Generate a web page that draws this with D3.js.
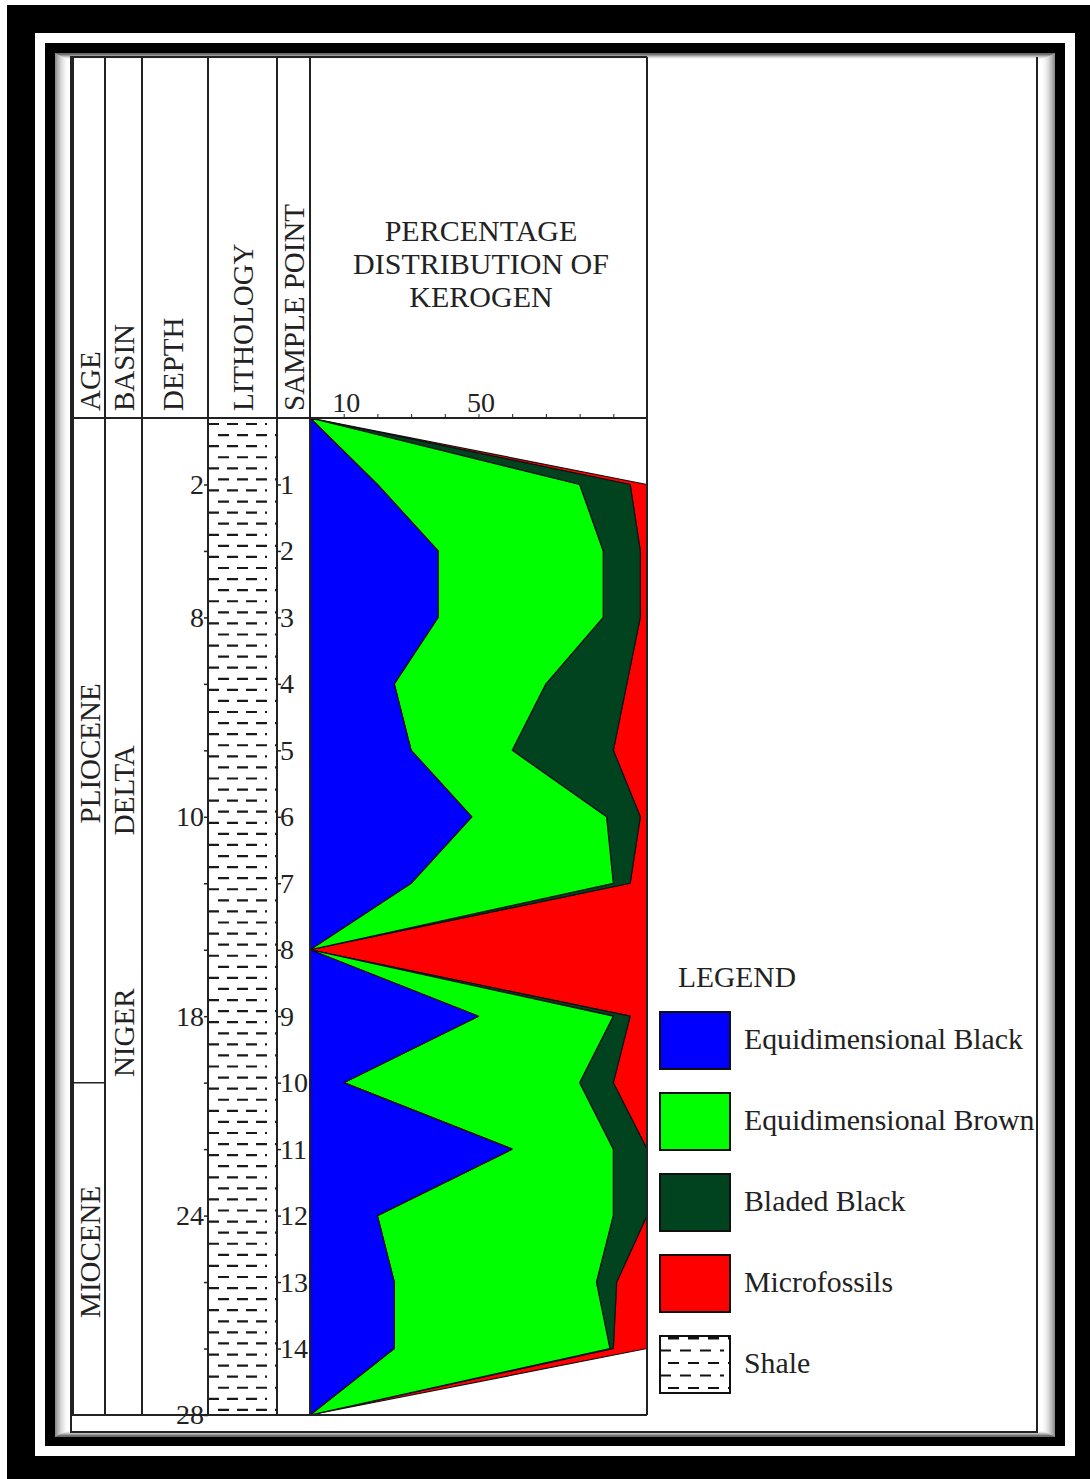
<!DOCTYPE html>
<html>
<head>
<meta charset="utf-8">
<script src="https://cdn.jsdelivr.net/npm/d3@7"></script>
<style>
  html, body { margin: 0; padding: 0; background: #000; }
  svg { display: block; }
  text { font-family: "Liberation Serif", "DejaVu Serif", serif; fill: #222; }
</style>
</head>
<body>
<svg id="chart"></svg>
<script>
// Sample points down the section (0 = top, 15 = base)
const samplePoints = d3.range(0, 16);
const sampleLabels = ["", "1", "2", "3", "4", "5", "6", "7", "8", "9", "10", "11", "12", "13", "14", ""];
const depthLabels = ["", "2", "", "8", "", "", "10", "", "", "18", "", "", "24", "", "", "28"];

// Kerogen percentages at each sample point
const equiBlack    = [0, 20, 38, 38, 25, 30, 48, 30, 0, 50, 10, 60, 20, 25, 25, 0];
const equiBrown    = [0, 60, 49, 49, 45, 30, 40, 60, 0, 40, 70, 30, 70, 60, 64, 0];
const bladedBlack  = [0, 15, 11, 11, 24, 30, 10,  5, 0,  5, 10, 10, 10,  6,  1, 0];
const microfossils = [0,  5,  2,  2,  6, 10,  2,  5, 100, 5, 10, 0,  0,  9, 10, 0];

const xTicks = [10, 20, 30, 40, 50, 60, 70, 80, 90];
const xTickLabels = { 10: "10", 50: "50" };

const ages = [
  { name: "PLIOCENE", from: 0, to: 10 },
  { name: "MIOCENE", from: 10, to: 15 }
];
const basinWords = [
  { name: "DELTA", at: 5.6 },
  { name: "NIGER", at: 9.25 }
];

const keys = ["black", "brown", "bladed", "micro"];
const legendNames = ["Equidimensional Black", "Equidimensional Brown", "Bladed Black", "Microfossils", "Shale"];
const colours = { black: "#0000ff", brown: "#00ff00", bladed: "#01421f", micro: "#ff0000" };

// ---- layout
const W = 1090, H = 1479;
const colX = [72, 105, 142, 208, 277, 310, 647];
const headTop = 57, headBottom = 418, baseY = 1415;

const svg = d3.select("#chart").attr("width", W).attr("height", H);

// photo frame
svg.append("rect").attr("width", W).attr("height", H).attr("fill", "#000");
svg.append("rect").attr("x", 0).attr("y", 0).attr("width", W).attr("height", 5).attr("fill", "#fff");
svg.append("rect").attr("x", 0).attr("y", 0).attr("width", 7).attr("height", H).attr("fill", "#fff");
svg.append("rect").attr("x", 40).attr("y", 38).attr("width", 1030).attr("height", 1413)
    .attr("fill", "none").attr("stroke", "#fff").attr("stroke-width", 10);

// panel with soft inner shade
const panel = { x: 55, y: 53, w: 1000, h: 1384 };
svg.append("rect").attr("x", panel.x).attr("y", panel.y).attr("width", panel.w).attr("height", panel.h).attr("fill", "#fff");
d3.range(0, 14).forEach(i => {
  svg.append("rect")
      .attr("x", panel.x + i + 0.5).attr("y", panel.y + i * 0.45 + 0.5)
      .attr("width", panel.w - 2 * i - 1).attr("height", panel.h - i * 0.9 - 1)
      .attr("fill", "none")
      .attr("stroke", "#000")
      .attr("stroke-opacity", 0.45 * Math.pow(1 - i / 14, 2));
});

const g = svg.append("g");

// scales
const x = d3.scaleLinear().domain([0, 100]).range([colX[5], colX[6]]);
const y = d3.scaleLinear().domain([0, 15]).range([headBottom, baseY]);

// stacked kerogen areas
const rows = samplePoints.map(i => ({
  black: equiBlack[i], brown: equiBrown[i], bladed: bladedBlack[i], micro: microfossils[i]
}));
const series = d3.stack().keys(keys)(rows);

const area = d3.area()
    .y((d, i) => y(i))
    .x0(d => x(d[0]))
    .x1(d => x(d[1]))
    .curve(d3.curveLinear);

g.selectAll("path.kerogen")
    .data(series.slice().reverse())
  .join("path")
    .attr("class", "kerogen")
    .attr("d", area)
    .attr("fill", d => colours[d.key])
    .attr("stroke", "#111")
    .attr("stroke-width", 1.2)
    .attr("stroke-linejoin", "round");

// shale pattern in lithology column
const lith = g.append("g");
const rowStep = (baseY - headBottom) / 90;
d3.range(0, 90).forEach(i => {
  let yy = headBottom + 6 + i * rowStep;
  let odd = i % 2 === 1;
  lith.append("line")
      .attr("x1", odd ? colX[3] + 10 : colX[3])
      .attr("x2", odd ? colX[4] : colX[4] - 10)
      .attr("y1", yy).attr("y2", yy)
      .attr("stroke", "#1a1a1a")
      .attr("stroke-width", 2.2)
      .attr("stroke-dasharray", "11 8");
});

// table lines
const lines = g.append("g").attr("stroke", "#222").attr("fill", "none");
lines.append("path")
    .attr("d", `M647,${headTop}H71V1432H1037V${headTop}`)
    .attr("stroke-width", 2);
lines.append("line").attr("x1", 73).attr("x2", 73).attr("y1", headTop).attr("y2", baseY).attr("stroke-width", 2);
colX.slice(1).forEach(cx => {
  lines.append("line").attr("x1", cx).attr("x2", cx).attr("y1", headTop).attr("y2", baseY).attr("stroke-width", 2);
});
lines.append("line").attr("x1", 71).attr("x2", colX[6]).attr("y1", headBottom).attr("y2", headBottom).attr("stroke-width", 2);
lines.append("line").attr("x1", 71).attr("x2", colX[6]).attr("y1", baseY).attr("y2", baseY).attr("stroke-width", 2);
ages.slice(1).forEach(a => {
  lines.append("line").attr("x1", colX[0]).attr("x2", colX[1]).attr("y1", y(a.from)).attr("y2", y(a.from)).attr("stroke-width", 1.5);
});

// percentage axis on top of the plot
const xAxis = g.append("g")
    .attr("transform", `translate(0,${headBottom})`)
    .call(d3.axisTop(x).tickValues(xTicks).tickSize(4).tickPadding(2)
      .tickFormat(d => xTickLabels[d] || ""));
xAxis.select(".domain").remove();
xAxis.selectAll("line").attr("stroke", "#222");
xAxis.selectAll("text").attr("font-size", 28).attr("fill", "#222")
    .attr("font-family", "Liberation Serif").attr("dx", 2);

// depth axis
const depthAxis = g.append("g")
    .attr("transform", `translate(${colX[3]},0)`)
    .call(d3.axisLeft(y).tickValues(d3.range(1, 16)).tickSize(4).tickPadding(0)
      .tickFormat(d => depthLabels[d]));
depthAxis.select(".domain").remove();
depthAxis.selectAll("line").attr("stroke", "#222").attr("stroke-width", 1.5);
depthAxis.selectAll("text").attr("font-size", 28).attr("fill", "#222").attr("font-family", "Liberation Serif");

// sample point axis
const sampleAxis = g.append("g")
    .attr("transform", `translate(${colX[4]},0)`)
    .call(d3.axisRight(y).tickValues(d3.range(1, 15)).tickSize(4).tickPadding(-1)
      .tickFormat(d => sampleLabels[d]));
sampleAxis.select(".domain").remove();
sampleAxis.selectAll("line").attr("stroke", "#222").attr("stroke-width", 1.5);
sampleAxis.selectAll("text").attr("font-size", 28).attr("fill", "#222").attr("font-family", "Liberation Serif");

// column headers (rotated)
const headers = [
  { t: "AGE", cx: 90 },
  { t: "BASIN", cx: 123.5 },
  { t: "DEPTH", cx: 173 },
  { t: "LITHOLOGY", cx: 242.5 },
  { t: "SAMPLE POINT", cx: 294 }
];
g.selectAll("text.head")
    .data(headers)
  .join("text")
    .attr("class", "head")
    .attr("transform", d => `translate(${d.cx + 10},411) rotate(-90)`)
    .attr("font-size", 29)
    .text(d => d.t);

// plot title
const titleLines = ["PERCENTAGE", "DISTRIBUTION OF", "KEROGEN"];
g.selectAll("text.title")
    .data(titleLines)
  .join("text")
    .attr("class", "title")
    .attr("x", 481)
    .attr("y", (d, i) => 241 + i * 33)
    .attr("text-anchor", "middle")
    .attr("font-size", 30)
    .text(d => d);

// age and basin names
g.selectAll("text.age")
    .data(ages)
  .join("text")
    .attr("class", "age")
    .attr("transform", d => `translate(100,${(y(d.from) + y(d.to)) / 2 + 3}) rotate(-90)`)
    .attr("text-anchor", "middle")
    .attr("font-size", 29)
    .text(d => d.name);

g.selectAll("text.basin")
    .data(basinWords)
  .join("text")
    .attr("class", "basin")
    .attr("transform", d => `translate(134,${y(d.at)}) rotate(-90)`)
    .attr("text-anchor", "middle")
    .attr("font-size", 29)
    .text(d => d.name);

// legend
const legend = g.append("g").attr("transform", "translate(660,0)");
legend.append("text").attr("x", 18).attr("y", 987).attr("font-size", 29.5).text("LEGEND");

const boxTop = 1012, boxStep = 81, boxW = 70, boxH = 57;
const items = legend.selectAll("g.item")
    .data(legendNames)
  .join("g")
    .attr("class", "item")
    .attr("transform", (d, i) => `translate(0,${boxTop + i * boxStep})`);

items.append("rect")
    .attr("width", boxW).attr("height", boxH)
    .attr("fill", (d, i) => i < 4 ? colours[keys[i]] : "#fff")
    .attr("stroke", "#111")
    .attr("stroke-width", 2);

items.append("text")
    .attr("x", 84)
    .attr("y", 37)
    .attr("font-size", 29.8)
    .text(d => d);

// shale swatch dashes
const shaleItem = items.filter((d, i) => i === 4);
d3.range(0, 5).forEach(i => {
  let odd = i % 2 === 1;
  shaleItem.append("line")
      .attr("x1", odd ? 0 : 8).attr("x2", odd ? boxW - 6 : boxW)
      .attr("y1", 2 + i * 12.5).attr("y2", 2 + i * 12.5)
      .attr("stroke", "#111")
      .attr("stroke-width", i === 0 ? 3 : 2)
      .attr("stroke-dasharray", "11 9");
});
</script>
</body>
</html>
